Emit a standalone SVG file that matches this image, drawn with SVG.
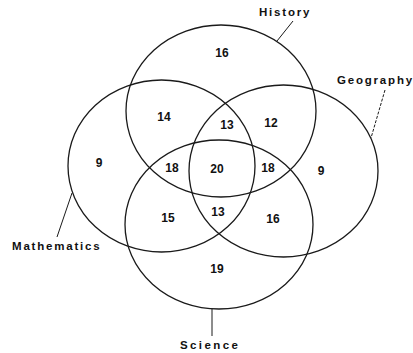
<svg xmlns="http://www.w3.org/2000/svg" width="413" height="353" viewBox="0 0 413 353">
<style>
.set{fill:none;stroke:#1a1a1a;stroke-width:1.3}
.lead{fill:none;stroke:#1a1a1a;stroke-width:1}
.lbl{font-family:"Liberation Sans",Arial,sans-serif;font-weight:bold;font-size:11.5px;fill:#111;letter-spacing:1.8px}
.num{font-family:"Liberation Sans",Arial,sans-serif;font-weight:bold;font-size:12px;fill:#111;text-anchor:middle}
</style>
<rect width="413" height="353" fill="#fff"/>
<g id="history">
<ellipse class="set" cx="221" cy="111" rx="95" ry="86"/>
<text class="lbl" x="259" y="16">History</text>
</g>
<g id="geography">
<ellipse class="set" cx="283.5" cy="171" rx="94.5" ry="86"/>
<text class="lbl" x="337" y="84">Geography</text>
</g>
<g id="mathematics">
<ellipse class="set" cx="161.5" cy="166" rx="93.5" ry="86"/>
<text class="lbl" x="12" y="250">Mathematics</text>
</g>
<g id="science">
<ellipse class="set" cx="219" cy="224.5" rx="94" ry="84.5"/>
<text class="lbl" x="180" y="349" style="letter-spacing:2.4px">Science</text>
</g>
<g id="connectors">
<line class="lead" x1="293" y1="21" x2="277" y2="41"/>
<line class="lead" x1="385" y1="90" x2="371" y2="138" stroke-dasharray="3 1.5"/>
<line class="lead" x1="72" y1="193" x2="57" y2="237"/>
<line class="lead" x1="212" y1="309" x2="212" y2="336"/>
</g>
<g id="counts">
<text class="num" x="222" y="57">16</text>
<text class="num" x="164" y="121">14</text>
<text class="num" x="227" y="129">13</text>
<text class="num" x="271" y="127">12</text>
<text class="num" x="99" y="167">9</text>
<text class="num" x="172" y="172">18</text>
<text class="num" x="217" y="173">20</text>
<text class="num" x="268" y="172">18</text>
<text class="num" x="321" y="175">9</text>
<text class="num" x="168" y="222">15</text>
<text class="num" x="218" y="216">13</text>
<text class="num" x="273" y="223">16</text>
<text class="num" x="217" y="273">19</text>
</g>
</svg>
